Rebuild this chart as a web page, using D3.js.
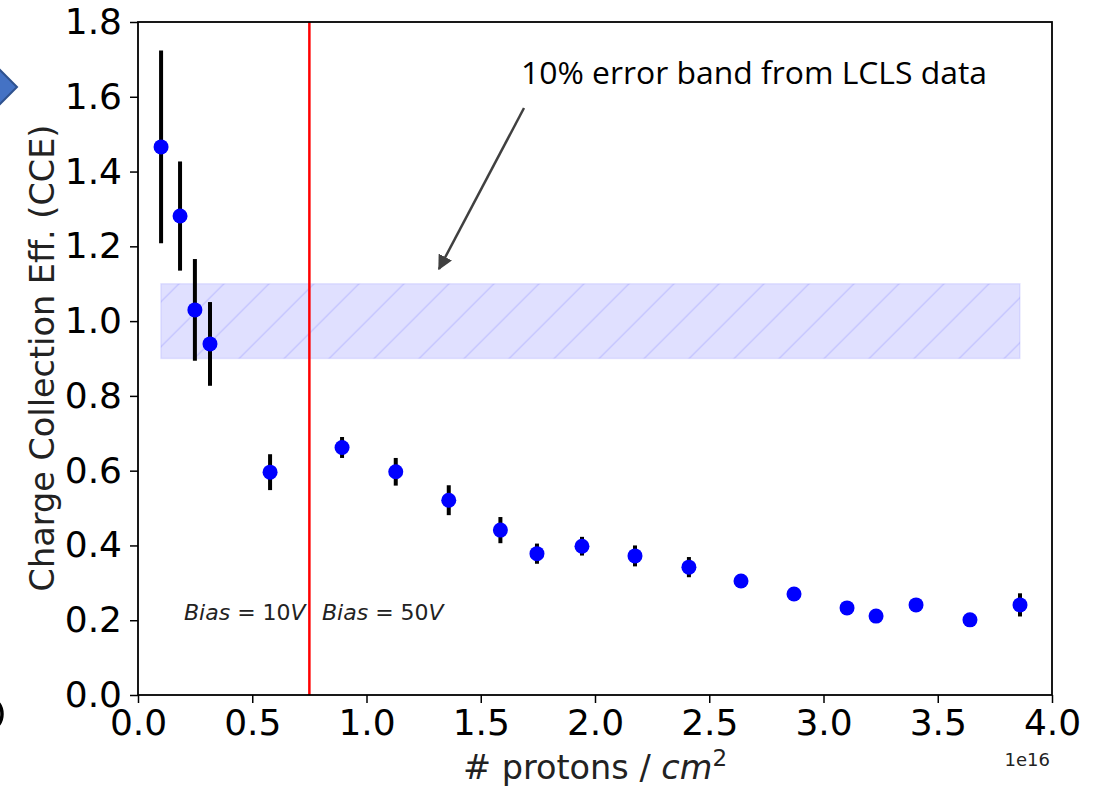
<!DOCTYPE html>
<html>
<head>
<meta charset="utf-8">
<script src="https://cdn.jsdelivr.net/npm/d3@7"></script>
<style>
  html, body { margin: 0; padding: 0; background: #fff; }
  svg { display: block; }
</style>
</head>
<body>
<svg id="chart" width="1096" height="789"></svg>
<script>
// ---- data ----
const fluence = [0.101,0.184,0.249,0.315,0.578,0.893,1.128,1.360,1.586,1.746,1.943,2.175,2.411,2.639,2.871,3.103,3.230,3.405,3.641,3.860];
const cce     = [1.466,1.281,1.030,0.939,0.596,0.662,0.597,0.521,0.441,0.378,0.398,0.372,0.342,0.305,0.270,0.233,0.211,0.241,0.201,0.241];
const cceErr  = [0.258,0.146,0.136,0.112,0.048,0.028,0.037,0.040,0.035,0.027,0.025,0.028,0.027,0.012,0.012,0.010,0.010,0.012,0.010,0.031];
const bandX = [0.1, 3.86];
const bandY = [0.9, 1.1];
const biasSwitch = 0.75;
const xTicks = [0.0,0.5,1.0,1.5,2.0,2.5,3.0,3.5,4.0];
const yTicks = [0.0,0.2,0.4,0.6,0.8,1.0,1.2,1.4,1.6,1.8];
const xDomain = [0, 4];
const yDomain = [0, 1.8];

// ---- layout ----
const L = 138, R = 1052, T = 22, B = 695;
const svg = d3.select("#chart");
const x = d3.scaleLinear().domain(xDomain).range([L, R]);
const y = d3.scaleLinear().domain(yDomain).range([B, T]);
const font = "'DejaVu Sans', sans-serif";

// hatch pattern
const defs = svg.append("defs");
const pat = defs.append("pattern")
  .attr("id", "hatch").attr("patternUnits", "userSpaceOnUse")
  .attr("width", 45).attr("height", 45)
  .attr("patternTransform", "translate(12.7,0)");
pat.append("rect").attr("width", 45).attr("height", 45).attr("fill", "rgba(0,0,255,0.12)");
pat.append("path").attr("d", "M-5,5 L5,-5 M0,45 L45,0 M40,50 L50,40")
  .attr("stroke", "rgba(0,0,255,0.13)").attr("stroke-width", 1.3);

// band
svg.append("rect")
  .attr("x", x(bandX[0])).attr("y", y(bandY[1]))
  .attr("width", x(bandX[1]) - x(bandX[0]))
  .attr("height", y(bandY[0]) - y(bandY[1]))
  .attr("fill", "url(#hatch)")
  .attr("stroke", "rgba(0,0,255,0.08)").attr("stroke-width", 1.5);

// vertical red line
svg.append("line")
  .attr("x1", x(biasSwitch)).attr("x2", x(biasSwitch))
  .attr("y1", T).attr("y2", B)
  .attr("stroke", "#ff0000").attr("stroke-width", 2.5);

// error bars
const pts = fluence.map((f, i) => ({x: f, y: cce[i], e: cceErr[i]}));
svg.append("g").selectAll("line").data(pts).join("line")
  .attr("x1", d => x(d.x)).attr("x2", d => x(d.x))
  .attr("y1", d => y(d.y - d.e)).attr("y2", d => y(d.y + d.e))
  .attr("stroke", "#000").attr("stroke-width", 4);

// markers
svg.append("g").selectAll("circle").data(pts).join("circle")
  .attr("cx", d => x(d.x)).attr("cy", d => y(d.y)).attr("r", 7.5)
  .attr("fill", "#0000ff");

// axes
const xAxis = svg.append("g").attr("transform", `translate(0,${B})`)
  .call(d3.axisBottom(x).tickValues(xTicks).tickFormat(d3.format(".1f")).tickSize(8).tickPadding(6).tickSizeOuter(0));
const yAxis = svg.append("g").attr("transform", `translate(${L},0)`)
  .call(d3.axisLeft(y).tickValues(yTicks).tickFormat(d3.format(".1f")).tickSize(8).tickPadding(8).tickSizeOuter(0));
[xAxis, yAxis].forEach(g => {
  g.select(".domain").remove();
  g.selectAll(".tick line").attr("stroke", "#000").attr("stroke-width", 1.5);
  g.selectAll(".tick text").attr("fill", "#000").style("font-family", font).style("font-size", "36px");
});

// frame
svg.append("rect").attr("x", L).attr("y", T).attr("width", R - L).attr("height", B - T)
  .attr("fill", "none").attr("stroke", "#000").attr("stroke-width", 1.8);

// axis labels
svg.append("text")
  .attr("transform", `translate(54,${358}) rotate(-90)`)
  .attr("text-anchor", "middle")
  .style("font-family", font).style("font-size", "33.5px").attr("fill", "#222")
  .text("Charge Collection Eff. (CCE)");

const xl = svg.append("text")
  .attr("x", 595).attr("y", 779).attr("text-anchor", "middle")
  .style("font-family", font).style("font-size", "33.5px").attr("fill", "#222");
xl.append("tspan").text("# protons / ");
xl.append("tspan").style("font-style", "italic").text("cm");
xl.append("tspan").attr("dy", -13).style("font-size", "23px").text("2");

svg.append("text")
  .attr("x", 1050).attr("y", 766).attr("text-anchor", "end")
  .style("font-family", font).style("font-size", "18px").attr("fill", "#222")
  .text("1e16");

// bias labels
function biasLabel(xp, volts) {
  const t = svg.append("text").attr("x", xp).attr("y", 620)
    .style("font-family", font).style("font-size", "22px").attr("fill", "#222");
  t.append("tspan").style("font-style", "italic").text("Bias");
  t.append("tspan").text(" = " + volts);
  t.append("tspan").style("font-style", "italic").text("V");
}
biasLabel(184, "10");
biasLabel(322, "50");

// annotation
svg.append("text")
  .attr("x", 521).attr("y", 84)
  .attr("textLength", 466).attr("lengthAdjust", "spacingAndGlyphs")
  .style("font-family", "'Open Sans', sans-serif").style("font-size", "31px").attr("fill", "#000")
  .text("10% error band from LCLS data");

defs.append("marker").attr("id", "ah").attr("viewBox", "0 0 10 10")
  .attr("refX", 9).attr("refY", 5).attr("markerWidth", 6).attr("markerHeight", 6)
  .attr("orient", "auto").attr("markerUnits", "strokeWidth")
  .append("path").attr("d", "M0,0 L10,5 L0,10 Z").attr("fill", "#404040");
svg.append("line")
  .attr("x1", 524).attr("y1", 108).attr("x2", 439).attr("y2", 269)
  .attr("stroke", "#404040").attr("stroke-width", 2.5).attr("marker-end", "url(#ah)");

// slide residue at the left edge (clipped shapes from the original slide)
svg.append("polygon").attr("points", "-10,60 17,87 -10,114")
  .attr("fill", "#4472C4").attr("stroke", "#2F528F").attr("stroke-width", 2);
svg.append("ellipse").attr("cx", -8).attr("cy", 714).attr("rx", 10).attr("ry", 14)
  .attr("fill", "none").attr("stroke", "#000").attr("stroke-width", 3.5);
</script>
</body>
</html>
